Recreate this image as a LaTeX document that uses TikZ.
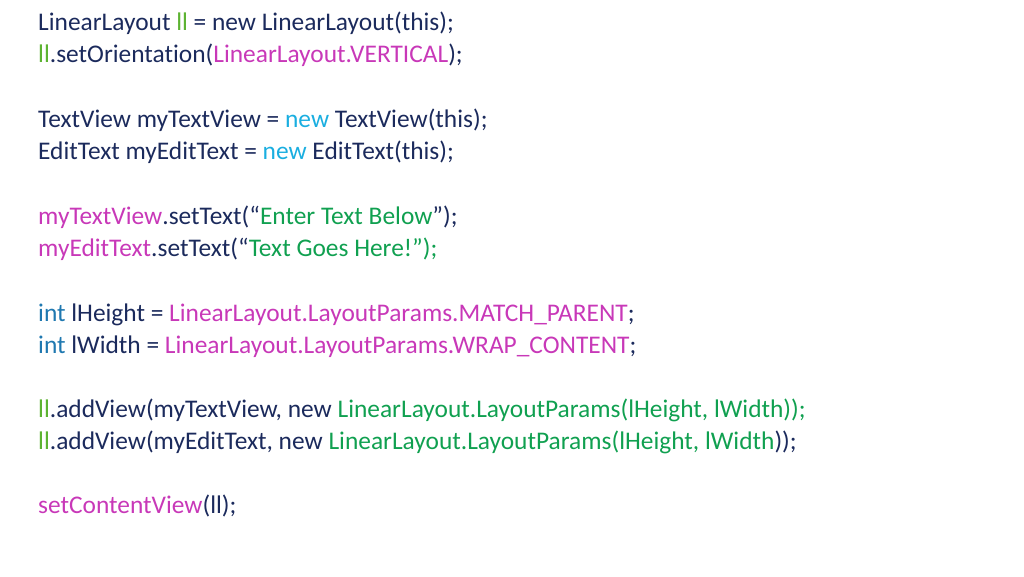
\documentclass[tikz,border=0pt]{standalone}
\usepackage{fontspec}
\setmainfont[Ligatures=NoCommon]{Carlito}
\definecolor{codenavy}{HTML}{1B2A5C}
\definecolor{codegreen}{HTML}{5DB332}
\definecolor{codepink}{HTML}{C838B8}
\definecolor{codecyan}{HTML}{1AAEE0}
\definecolor{codestr}{HTML}{10A050}
\definecolor{codeint}{HTML}{1F78B0}
\newcommand{\lv}[1]{\textcolor{codegreen}{#1}}
\newcommand{\pk}[1]{\textcolor{codepink}{#1}}
\newcommand{\cy}[1]{\textcolor{codecyan}{#1}}
\newcommand{\st}[1]{\textcolor{codestr}{#1}}
\newcommand{\ty}[1]{\textcolor{codeint}{#1}}
\begin{document}
\begin{tikzpicture}[x=1pt,y=-1pt,
  codeline/.style={anchor=base west,inner sep=0pt,text=codenavy,font=\fontsize{25.4}{30}\selectfont}]
\useasboundingbox (0,0) rectangle (1024,576);
% declarations
\node[codeline] (l1) at (38,30) {LinearLayout \lv{ll} = new LinearLayout(this);};
\node[codeline] (l2) at (38,62) {\lv{ll}.setOrientation(\pk{LinearLayout.VERTICAL});};
\node[codeline] (l3) at (38,127) {TextView myTextView = \cy{new} TextView(this);};
\node[codeline] (l4) at (38,159) {EditText myEditText = \cy{new} EditText(this);};
% texts
\node[codeline] (l5) at (38,224) {\pk{myTextView}.setText(“\st{Enter Text Below}”);};
\node[codeline] (l6) at (38,256) {\pk{myEditText}.setText(“\st{Text Goes Here!”);}};
% params
\node[codeline] (l7) at (38,321) {\ty{int} lHeight = \pk{LinearLayout.LayoutParams.MATCH\_PARENT};};
\node[codeline] (l8) at (38,353) {\ty{int} lWidth = \pk{LinearLayout.LayoutParams.WRAP\_CONTENT};};
% views
\node[codeline] (l9) at (38,417) {\lv{ll}.addView(myTextView, new \st{LinearLayout.LayoutParams(lHeight, lWidth));}};
\node[codeline] (l10) at (38,449) {\lv{ll}.addView(myEditText, new \st{LinearLayout.LayoutParams(lHeight, lWidth}));};
\node[codeline] (l11) at (38,513) {\pk{setContentView}(ll);};
\end{tikzpicture}
\end{document}
